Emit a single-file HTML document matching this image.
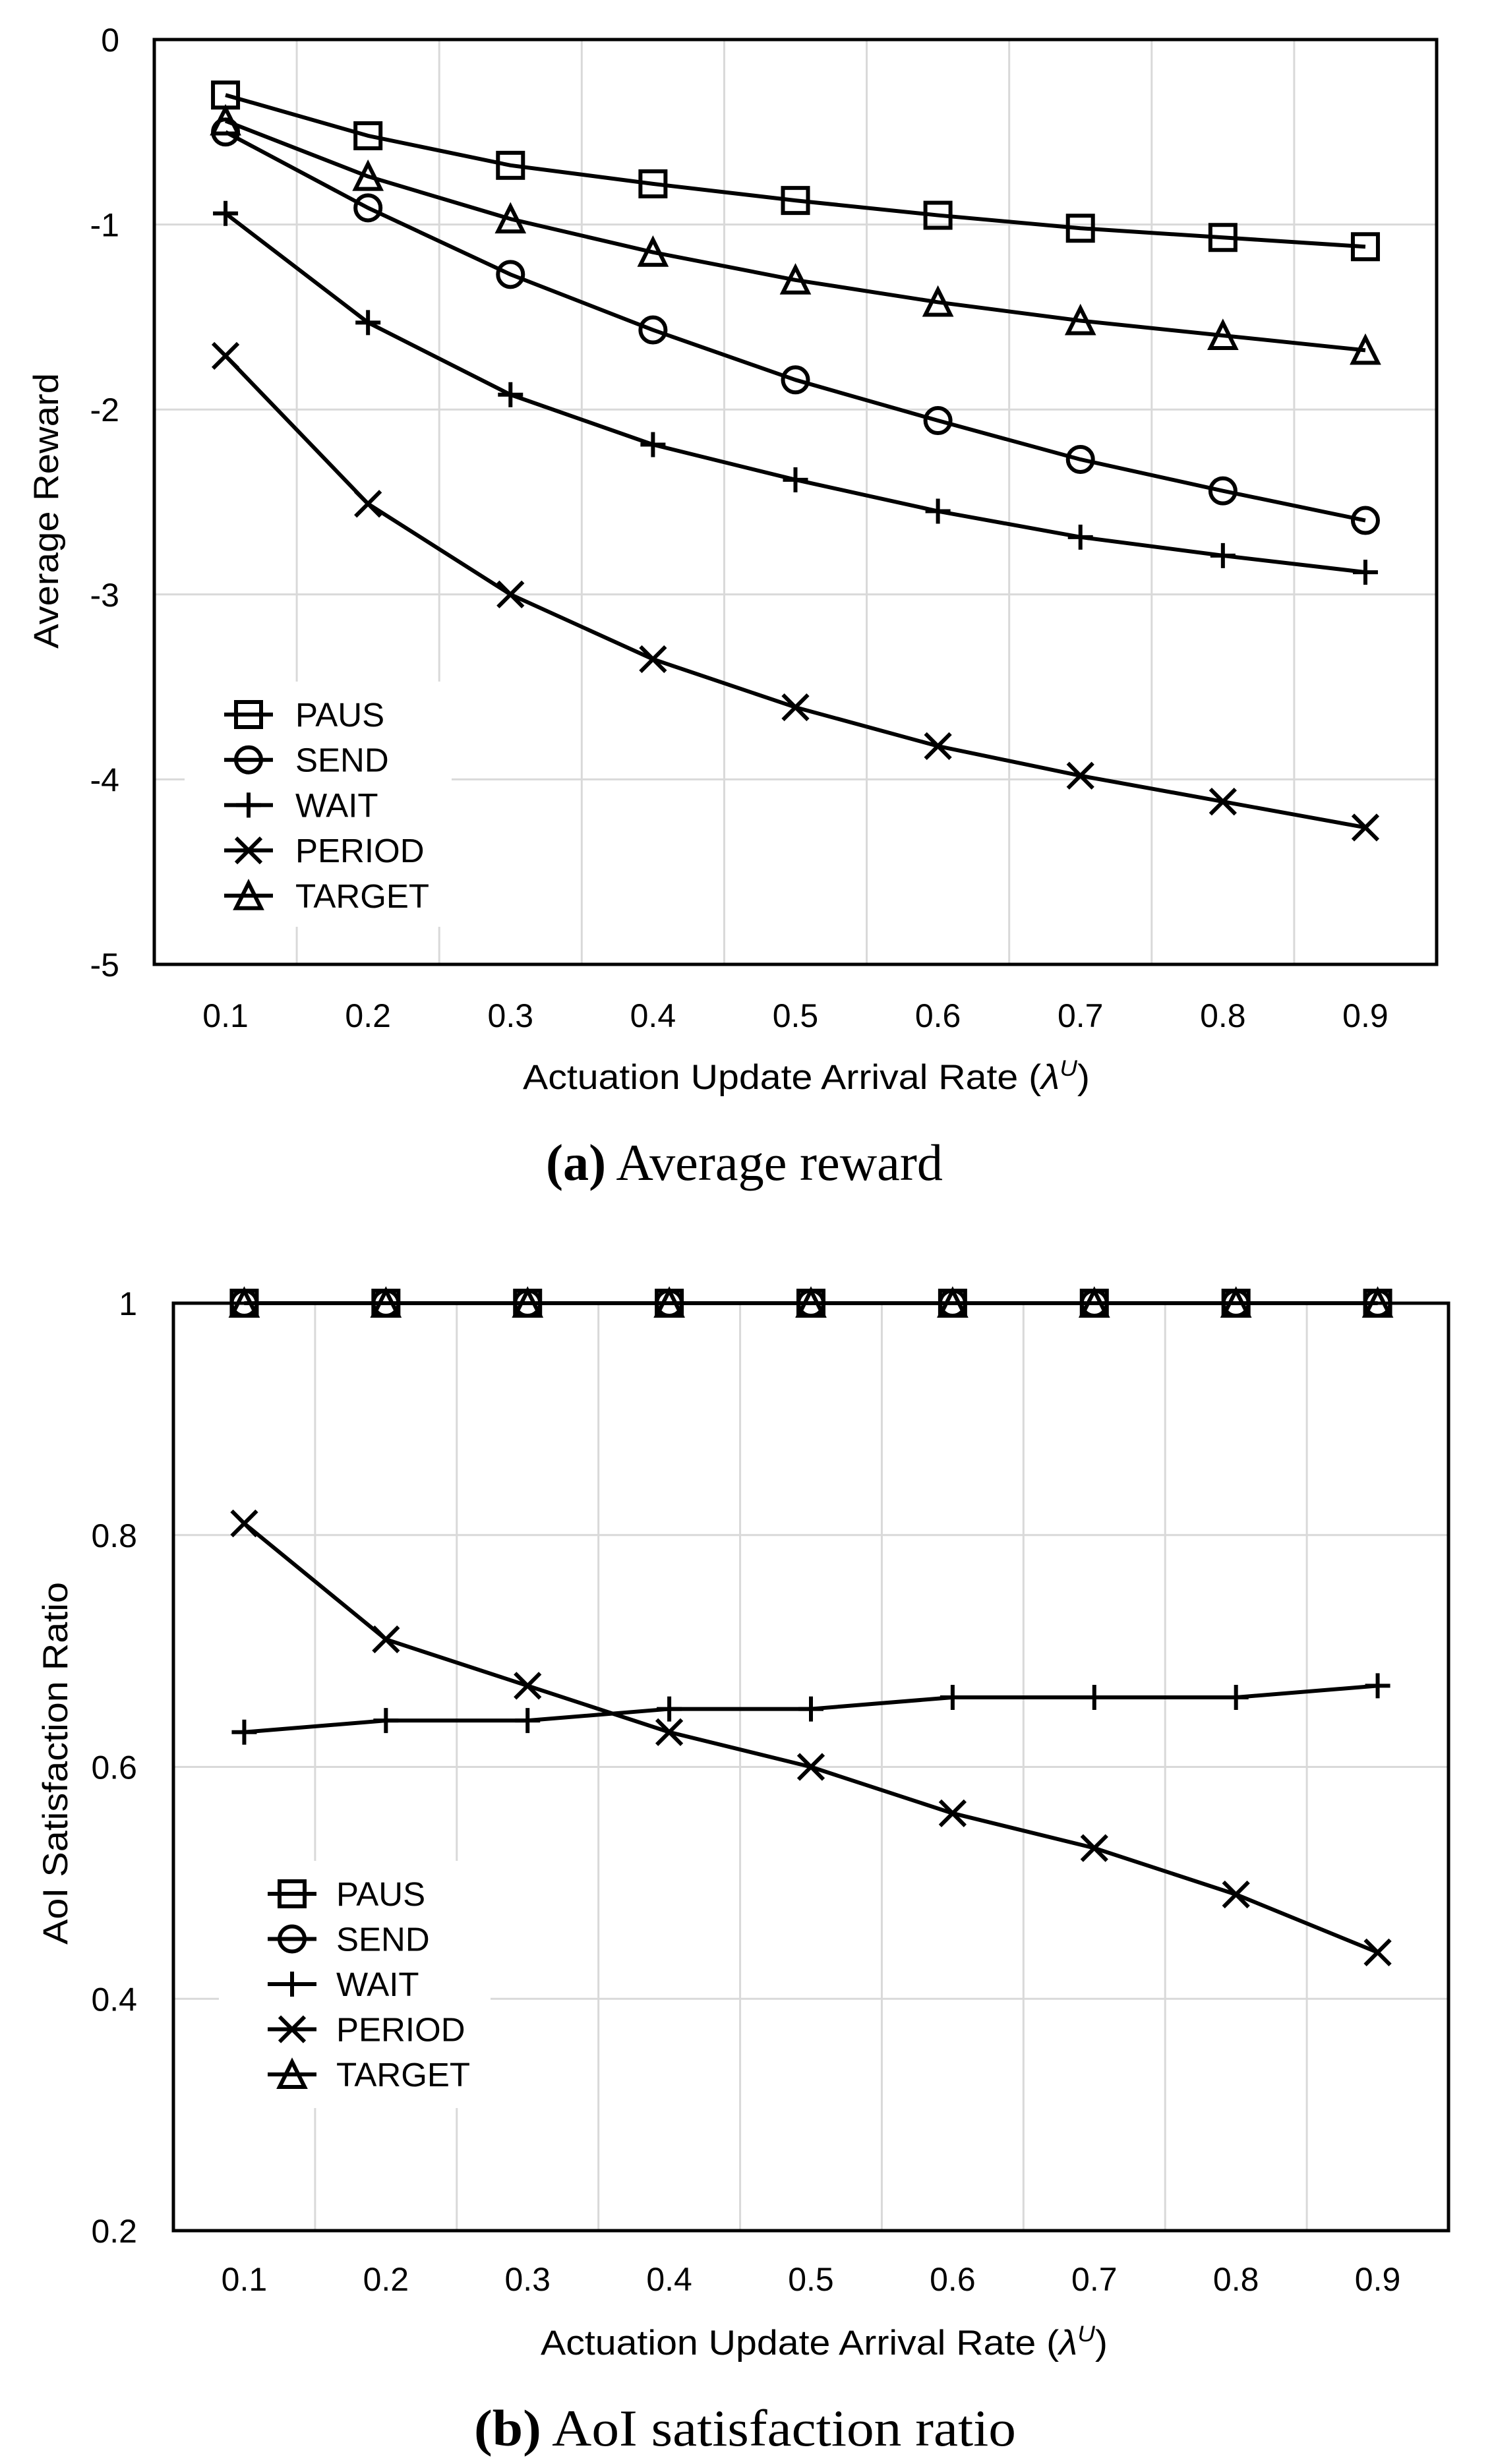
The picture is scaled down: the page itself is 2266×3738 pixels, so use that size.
<!DOCTYPE html>
<html><head><meta charset="utf-8">
<style>
html,body{margin:0;padding:0;background:#fff;}
svg{display:block;}
text{font-family:"Liberation Sans",sans-serif;fill:#000;}
.cap{font-family:"Liberation Serif",serif;}
</style></head>
<body>
<svg id="fig" width="2266" height="3738" viewBox="0 0 2266 3738" xmlns="http://www.w3.org/2000/svg"></svg>
<script>
const categories = ["0.1","0.2","0.3","0.4","0.5","0.6","0.7","0.8","0.9"];
const seriesNames = ["PAUS","SEND","WAIT","PERIOD","TARGET"];
const markerTypes = ["square","circle","plus","cross","triangle"];
// chart (a) average reward
const rewardPAUS   = [-0.30,-0.52,-0.68,-0.78,-0.87,-0.95,-1.02,-1.07,-1.12];
const rewardSEND   = [-0.50,-0.91,-1.27,-1.57,-1.84,-2.06,-2.27,-2.44,-2.60];
const rewardWAIT   = [-0.94,-1.53,-1.92,-2.19,-2.38,-2.55,-2.69,-2.79,-2.88];
const rewardPERIOD = [-1.71,-2.51,-3.00,-3.35,-3.61,-3.82,-3.98,-4.12,-4.26];
const rewardTARGET = [-0.44,-0.74,-0.97,-1.15,-1.30,-1.42,-1.52,-1.60,-1.68];
const rewardTicks  = [0,-1,-2,-3,-4,-5];
// chart (b) AoI satisfaction ratio
const aoiPAUS   = [1,1,1,1,1,1,1,1,1];
const aoiSEND   = [1,1,1,1,1,1,1,1,1];
const aoiWAIT   = [0.63,0.64,0.64,0.65,0.65,0.66,0.66,0.66,0.67];
const aoiPERIOD = [0.81,0.71,0.67,0.63,0.60,0.56,0.53,0.49,0.44];
const aoiTARGET = [1,1,1,1,1,1,1,1,1];
const aoiTicks  = [1,0.8,0.6,0.4,0.2];

const NS="http://www.w3.org/2000/svg";
const svg=document.getElementById('fig');
function mk(tag,attrs,parent){const e=document.createElementNS(NS,tag);for(const k in attrs)e.setAttribute(k,attrs[k]);(parent||svg).appendChild(e);return e;}

function marker(g,type,cx,cy){
  const s=19, st={stroke:'#000','stroke-width':6,fill:'none'};
  let e;
  if(type==='square'){e=mk('rect',Object.assign({x:cx-s,y:cy-s,width:2*s,height:2*s},st),g);}
  else if(type==='circle'){e=mk('circle',Object.assign({cx:cx,cy:cy,r:s},st),g);}
  else if(type==='triangle'){e=mk('path',Object.assign({d:`M${cx},${cy-s} L${cx+s},${cy+s} L${cx-s},${cy+s} Z`,'stroke-linejoin':'miter'},st),g);}
  else if(type==='plus'){e=mk('path',Object.assign({d:`M${cx-s},${cy} H${cx+s} M${cx},${cy-s} V${cy+s}`},st),g);}
  else {e=mk('path',Object.assign({d:`M${cx-s},${cy-s} L${cx+s},${cy+s} M${cx+s},${cy-s} L${cx-s},${cy+s}`},st),g);}
  return e;
}

function chart(o){
  const g=mk('g',{});
  
  
  const band=(o.R-o.L)/categories.length;
  const xs=i=>o.L+band*(i+0.5);
  const ys=v=>o.T+(o.ymax-v)/(o.ymax-o.ymin)*(o.B-o.T);
  for(let i=1;i<categories.length;i++){
    const l=mk('line',{x1:o.L+band*i,x2:o.L+band*i,y1:o.T,y2:o.B,stroke:'#d9d9d9','stroke-width':3},g);
    
    
  }
  o.ticks.forEach(t=>{
    const y=ys(t);
    if(t!==o.ymax&&t!==o.ymin){
      const l=mk('line',{x1:o.L,x2:o.R,y1:y,y2:y,stroke:'#d9d9d9','stroke-width':3},g);
      
      
    }
    const tx=mk('text',{x:o.ylabX,y:y+18,'text-anchor':'end','font-size':50},g);
    tx.textContent=String(t);
    
    
  });
  const lg=mk('g',{},g);
  
  
  mk('rect',{x:o.leg.x,y:o.leg.y,width:o.leg.w,height:o.leg.h,fill:'#fff'},lg);
  const fr=mk('rect',{x:o.L,y:o.T,width:o.R-o.L,height:o.B-o.T,fill:'none',stroke:'#000','stroke-width':5},g);
  
  
  categories.forEach((c,i)=>{
    const tx=mk('text',{x:xs(i),y:o.xlabY,'text-anchor':'middle','font-size':50},g);
    tx.textContent=c;
    
    
  });
  o.series.forEach((vals,si)=>{
    const sg=mk('g',{},g);
    
    
    const pts=vals.map((v,i)=>xs(i)+','+ys(v)).join(' ');
    const pl=mk('polyline',{points:pts,fill:'none',stroke:'#000','stroke-width':6,'stroke-linejoin':'round'},sg);
    
    
    vals.forEach((v,i)=>{
      const m=marker(sg,markerTypes[si],xs(i),ys(v));
      
      
    });
  });
  seriesNames.forEach((n,si)=>{
    const y=o.leg.ey0+si*o.leg.dy;
    const eg=mk('g',{},lg);
    
    
    mk('line',{x1:o.leg.mx-37,x2:o.leg.mx+37,y1:y,y2:y,stroke:'#000','stroke-width':6},eg);
    marker(eg,markerTypes[si],o.leg.mx,y);
    const t=mk('text',{x:o.leg.tx,y:y+18,'font-size':51},eg);
    t.textContent=n;
  });
  const xt=mk('text',{x:o.xtX,y:o.xtY,'text-anchor':'middle','font-size':53,textLength:o.xtLen,lengthAdjust:'spacingAndGlyphs'},g);
  xt.innerHTML='Actuation Update Arrival Rate (<tspan font-style="italic">λ</tspan><tspan font-size="34" dy="-20" font-style="italic">U</tspan><tspan dy="20">)</tspan>';
  
  
  const yt=mk('text',{x:0,y:0,'text-anchor':'middle','font-size':53,textLength:o.ytLen,lengthAdjust:'spacingAndGlyphs',transform:`translate(${o.ytX},${o.ytY}) rotate(-90)`},g);
  yt.textContent=o.ytitle;
  
  
  const cp=mk('text',{x:o.capX,y:o.capY,'text-anchor':'middle','font-size':78,class:'cap',textLength:o.capLen,lengthAdjust:'spacingAndGlyphs'},g);
  cp.innerHTML='<tspan font-weight="bold">('+o.cap[0]+')</tspan>  '+o.cap[1];
  
  
}

chart({name:'chart-average-reward',L:234,R:2179,T:60,B:1463,ymax:0,ymin:-5,ticks:rewardTicks,ylabX:181,xlabY:1558,
  series:[rewardPAUS,rewardSEND,rewardWAIT,rewardPERIOD,rewardTARGET],
  leg:{x:280,y:1034,w:405,h:372,ey0:1084,dy:68.7,mx:377,tx:448},
  xtX:1223,xtY:1652,xtLen:860,ytX:88,ytY:775,ytLen:418,ytitle:'Average Reward',capX:1129,capY:1790,capLen:602,cap:['a','Average reward']});
chart({name:'chart-aoi-satisfaction',L:263,R:2197,T:1977,B:3384,ymax:1,ymin:0.2,ticks:aoiTicks,ylabX:208,xlabY:3475,
  series:[aoiPAUS,aoiSEND,aoiWAIT,aoiPERIOD,aoiTARGET],
  leg:{x:332,y:2823,w:412,h:375,ey0:2873,dy:68.5,mx:443,tx:510},
  xtX:1250,xtY:3572,xtLen:860,ytX:102,ytY:2675,ytLen:550,ytitle:'AoI Satisfaction Ratio',capX:1130,capY:3710,capLen:822,cap:['b','AoI satisfaction ratio']});
</script>
</body></html>
